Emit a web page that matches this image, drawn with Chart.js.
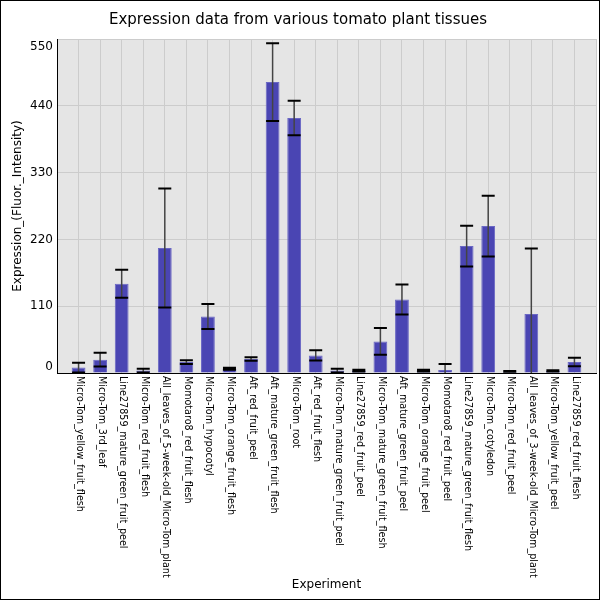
<!DOCTYPE html>
<html>
<head>
<meta charset="utf-8">
<script src="https://cdn.jsdelivr.net/npm/chart.js@4"></script>
<style>
  html, body { margin: 0; padding: 0; background: #ffffff; }
  #wrap { width: 600px; height: 600px; }
</style>
</head>
<body>
<div id="wrap"><canvas id="myChart" width="600" height="600"></canvas></div>
<script>
// tissues, left to right
const experiments = [
  "Micro-Tom_yellow_fruit_flesh",
  "Micro-Tom_3rd_leaf",
  "Line27859_mature_green_fruit_peel",
  "Micro-Tom_red_fruit_flesh",
  "All_leaves_of_5-week-old_Micro-Tom_plant",
  "Momotaro8_red_fruit_flesh",
  "Micro-Tom_hypocotyl",
  "Micro-Tom_orange_fruit_flesh",
  "Aft_red_fruit_peel",
  "Aft_mature_green_fruit_flesh",
  "Micro-Tom_root",
  "Aft_red_fruit_flesh",
  "Micro-Tom_mature_green_fruit_peel",
  "Line27859_red_fruit_peel",
  "Micro-Tom_mature_green_fruit_flesh",
  "Aft_mature_green_fruit_peel",
  "Micro-Tom_orange_fruit_peel",
  "Momotaro8_red_fruit_peel",
  "Line27859_mature_green_fruit_flesh",
  "Micro-Tom_cotyledon",
  "Micro-Tom_red_fruit_peel",
  "All_leaves_of_3-week-old_Micro-Tom_plant",
  "Micro-Tom_yellow_fruit_peel",
  "Line27859_red_fruit_flesh"
];
// mean expression
const expression = [9, 22, 147, 4, 206, 18, 93, 7, 23, 479, 420, 29,
  4, 4, 52, 121, 4, 5, 209, 242, 2.5, 97, 3.5, 18];
// error (+/-)
const errors = [8, 11.5, 23, 3, 98, 3, 20.5, 1.5, 3, 64, 28.5, 8.5,
  3, 1.5, 22, 24.6, 1.5, 10, 33.5, 50, 0.6, 108, 1, 7];
const yTicks = [0, 110, 220, 330, 440, 550];

// one empty slot on each side, like the original
const labels = [""].concat(experiments, [""]);
const barData = [null].concat(expression, [null]);

const plotBackground = {
  id: "plotBackground",
  beforeDraw(chart) {
    const { ctx, chartArea } = chart;
    ctx.save();
    ctx.fillStyle = "#e5e5e5";
    ctx.fillRect(chartArea.left, chartArea.top,
      chartArea.right - chartArea.left, chartArea.bottom - chartArea.top);
    ctx.restore();
  }
};

// error bars + own tick labels + frame
const extras = {
  id: "extras",
  afterDatasetsDraw(chart) {
    const { ctx, chartArea } = chart;
    const yScale = chart.scales.y;
    const meta = chart.getDatasetMeta(0);
    ctx.save();
    ctx.beginPath();
    ctx.rect(chartArea.left, chartArea.top,
      chartArea.right - chartArea.left, chartArea.bottom - chartArea.top);
    ctx.clip();
    for (let i = 0; i < expression.length; i++) {
      const bar = meta.data[i + 1];
      const top = yScale.getPixelForValue(expression[i] + errors[i]);
      const bottom = yScale.getPixelForValue(expression[i] - errors[i]);
      ctx.strokeStyle = "#444444";
      ctx.lineWidth = 1.5;
      ctx.beginPath();
      ctx.moveTo(bar.x, top);
      ctx.lineTo(bar.x, bottom);
      ctx.stroke();
      ctx.strokeStyle = "#000000";
      ctx.lineWidth = 2;
      ctx.beginPath();
      ctx.moveTo(bar.x - 6.5, top);
      ctx.lineTo(bar.x + 6.5, top);
      ctx.moveTo(bar.x - 6.5, bottom);
      ctx.lineTo(bar.x + 6.5, bottom);
      ctx.stroke();
    }
    ctx.restore();
  },
  afterDraw(chart) {
    const { ctx, chartArea } = chart;
    const xScale = chart.scales.x;
    const yScale = chart.scales.y;
    ctx.save();
    ctx.fillStyle = "#000000";
    // x labels, turned clockwise
    ctx.font = "9.6px 'DejaVu Sans'";
    ctx.textAlign = "left";
    ctx.textBaseline = "middle";
    for (let i = 0; i < experiments.length; i++) {
      const x = xScale.getPixelForTick(i + 1);
      ctx.save();
      ctx.translate(x + 1, chartArea.bottom + 3);
      ctx.rotate(Math.PI / 2);
      ctx.fillText(experiments[i], 0, 0);
      ctx.restore();
    }
    // y labels, kept inside the plot height
    ctx.font = "12px 'DejaVu Sans'";
    ctx.textAlign = "right";
    for (let i = 0; i < yTicks.length; i++) {
      let y = yScale.getPixelForValue(yTicks[i]);
      y = Math.min(Math.max(y, chartArea.top + 8), chartArea.bottom - 6.5);
      ctx.fillText(String(yTicks[i]), chartArea.left - 4, y);
    }
    // outer frame
    ctx.strokeStyle = "#000000";
    ctx.lineWidth = 1;
    ctx.strokeRect(0.5, 0.5, 599, 599);
    ctx.restore();
  }
};

const ctx = document.getElementById("myChart").getContext("2d");
const chart = new Chart(ctx, {
  type: "bar",
  data: {
    labels: labels,
    datasets: [
      {
        label: "Expression",
        data: barData,
        backgroundColor: "#4a45b3",
        borderColor: "#6a67c4",
        borderWidth: 1,
        barPercentage: 0.64,
        categoryPercentage: 1
      }
    ]
  },
  options: {
    responsive: false,
    animation: false,
    devicePixelRatio: 1,
    layout: { padding: { left: 0, right: 4, top: 0, bottom: 0 } },
    plugins: {
      legend: { display: false },
      tooltip: { enabled: false },
      title: {
        display: true,
        text: "Expression data from various tomato plant tissues",
        color: "#000000",
        font: { family: "'DejaVu Sans'", size: 15, weight: "normal" },
        padding: { top: 11, bottom: 10 }
      }
    },
    scales: {
      x: {
        offset: false,
        grid: { offset: false, color: "#cccccc", lineWidth: 1, drawTicks: false },
        border: { color: "#000000", width: 1 },
        ticks: { display: false },
        title: {
          display: true,
          text: "Experiment",
          color: "#000000",
          font: { family: "'DejaVu Sans'", size: 12 },
          padding: { top: 0, bottom: 8 }
        },
        afterFit(scale) {
          scale.height = 227;
        }
      },
      y: {
        min: 0,
        max: 550,
        grid: { color: "#cccccc", lineWidth: 1, drawTicks: false },
        border: { color: "#000000", width: 1 },
        ticks: { display: false },
        afterBuildTicks(scale) {
          scale.ticks = yTicks.map((v) => ({ value: v }));
        },
        title: {
          display: true,
          text: "Expression_(Fluor._Intensity)",
          color: "#000000",
          font: { family: "'DejaVu Sans'", size: 12 },
          padding: { top: 11, bottom: 0 }
        },
        afterFit(scale) {
          scale.width = 57;
        }
      }
    }
  },
  plugins: [plotBackground, extras]
});
</script>
</body>
</html>
